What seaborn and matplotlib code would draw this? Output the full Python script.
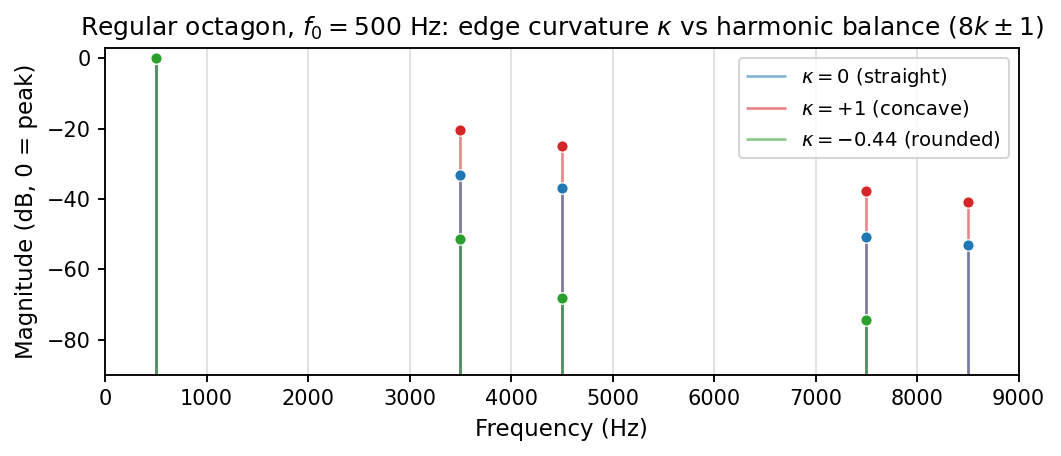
import matplotlib
matplotlib.use("Agg")
import matplotlib.pyplot as plt
import seaborn as sns
import pandas as pd

# harmonic frequencies (Hz)
freqs = [500, 3500, 4500, 7500, 8500]

# magnitudes in dB relative to peak
straight = [0.0, -33.1, -36.8, -50.9, -53.2]
concave = [0.0, -20.4, -24.9, -37.7, -40.8]
rounded = [0.0, -51.5, -68.2, -74.3, -95.0]

labels = [r"$\kappa = 0$ (straight)", r"$\kappa = +1$ (concave)", r"$\kappa = -0.44$ (rounded)"]
colors = ["#1f77b4", "#d62728", "#2ca02c"]

rows = []
for lab, vals in zip(labels, [straight, concave, rounded]):
    for f, v in zip(freqs, vals):
        rows.append({"freq": f, "mag": v, "series": lab})
df = pd.DataFrame(rows)

sns.set_theme(style="ticks", rc={"text.color": "black", "axes.labelcolor": "black",
                                 "xtick.color": "black", "ytick.color": "black",
                                 "axes.edgecolor": "black"})
plt.rcParams["font.family"] = ["DejaVu Sans"]

fig, ax = plt.subplots(figsize=(1061 / 150, 456 / 150), dpi=150)
fig.subplots_adjust(left=0.099, right=0.960, top=0.895, bottom=0.178)

bottom = -90
handles = {}
# concave first, then straight, then rounded on top
for i in [1, 0, 2]:
    lab, col = labels[i], colors[i]
    d = df[df.series == lab]
    handles[i] = ax.vlines(d.freq, bottom, d.mag, color=col, alpha=0.55, lw=1.3, label=lab, zorder=2)
for i in [1, 0, 2]:
    lab, col = labels[i], colors[i]
    d = df[df.series == lab]
    sns.scatterplot(data=d, x="freq", y="mag", color=col, s=30, edgecolor="white",
                    linewidth=0.6, ax=ax, zorder=3, legend=False)

ax.set_xlim(0, 9000)
ax.set_ylim(-90, 3)
ax.set_xticks(range(0, 9001, 1000))
ax.set_yticks([0, -20, -40, -60, -80])
ax.grid(axis="x", color="#dddddd", lw=0.8)
ax.grid(axis="y", visible=False)
ax.set_axisbelow(True)
for s in ax.spines.values():
    s.set_linewidth(0.9)
ax.tick_params(labelsize=10, length=3.5, width=0.9)

ax.set_xlabel("Frequency (Hz)", fontsize=11)
ax.set_ylabel("Magnitude (dB, 0 = peak)", fontsize=11)
ax.set_title(r"Regular octagon, $f_0 = 500$ Hz: edge curvature $\kappa$ vs harmonic balance $(8k \pm 1)$",
             fontsize=12)
ax.legend([handles[0], handles[1], handles[2]], labels, loc="upper right", fontsize=9.4,
          frameon=True, edgecolor="#cccccc")

fig.savefig("out.png", dpi=150)
